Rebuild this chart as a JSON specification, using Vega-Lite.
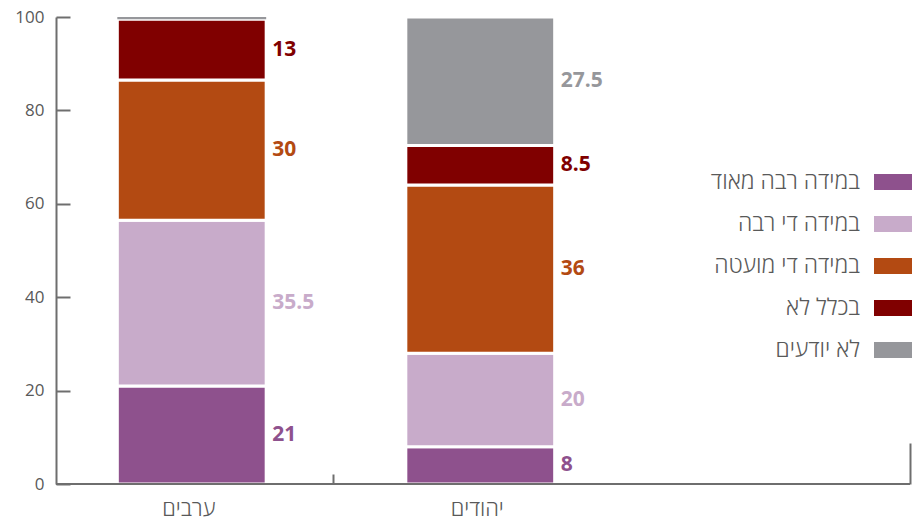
{
  "$schema": "https://vega.github.io/schema/vega-lite/v6.json",
  "width": 854,
  "height": 467,
  "autosize": {"type": "none"},
  "padding": {"left": 56, "top": 17, "right": 3, "bottom": 37},
  "config": {
    "view": {"stroke": null},
    "font": "Open Sans",
    "axis": {"grid": false, "domainColor": "#6e6e6e", "domainWidth": 2, "tickColor": "#6e6e6e", "tickWidth": 2, "labelColor": "#595959", "labelFont": "Open Sans", "title": null}
  },
  "data": {
    "values": [
      {"group": "ערבים", "answer": "במידה רבה מאוד", "value": 21, "order": 1},
      {"group": "ערבים", "answer": "במידה די רבה", "value": 35.5, "order": 2},
      {"group": "ערבים", "answer": "במידה די מועטה", "value": 30, "order": 3},
      {"group": "ערבים", "answer": "בכלל לא", "value": 13, "order": 4},
      {"group": "ערבים", "answer": "לא יודעים", "value": 0.5, "order": 5},
      {"group": "יהודים", "answer": "במידה רבה מאוד", "value": 8, "order": 1},
      {"group": "יהודים", "answer": "במידה די רבה", "value": 20, "order": 2},
      {"group": "יהודים", "answer": "במידה די מועטה", "value": 36, "order": 3},
      {"group": "יהודים", "answer": "בכלל לא", "value": 8.5, "order": 4},
      {"group": "יהודים", "answer": "לא יודעים", "value": 27.5, "order": 5}
    ]
  },
  "resolve": {"axis": {"x": "independent", "y": "independent"}},
  "layer": [
    {
      "mark": {"type": "bar", "stroke": "white", "width": {"band": 0.516}, "xOffset": 3},
      "encoding": {
        "x": {
          "field": "group",
          "type": "nominal",
          "sort": null,
          "scale": {"domain": ["ערבים", "יהודים", "_"], "range": [-11.5, 854], "paddingInner": 0, "paddingOuter": 0},
          "axis": {
            "orient": "bottom",
            "labelAngle": 0,
            "labelFontSize": 22,
            "labelFontWeight": 300,
            "labelPadding": 14,
            "ticks": false,
            "domain": false,
            "labelExpr": "datum.value === '_' ? '' : datum.value"
          }
        },
        "y": {
          "field": "value",
          "type": "quantitative",
          "stack": "zero",
          "scale": {"domain": [0, 100], "nice": false},
          "axis": {"orient": "left", "values": [0, 20, 40, 60, 80, 100], "labelFontSize": 17, "ticks": true, "tickSize": 0, "tickWidth": 0, "labelPadding": 12}
        },
        "order": {"field": "order", "type": "quantitative", "sort": "ascending"},
        "strokeWidth": {"condition": {"test": "datum.value < 1", "value": 0}, "value": 3},
        "color": {
          "field": "answer",
          "type": "nominal",
          "scale": {
            "domain": ["במידה רבה מאוד", "במידה די רבה", "במידה די מועטה", "בכלל לא", "לא יודעים"],
            "range": ["#8e518d", "#c8abca", "#b34a12", "#800000", "#96979b"]
          },
          "legend": {
            "orient": "none",
            "legendX": 818,
            "legendY": 146,
            "title": null,
            "padding": 0,
            "symbolType": "M-1,-0.421H1V0.421H-1Z",
            "symbolSize": 1444,
            "symbolStrokeWidth": 0,
            "symbolOpacity": 1,
            "labelAlign": "right",
            "labelOffset": -52,
            "labelFontSize": 23,
            "labelFontWeight": 300,
            "labelColor": "#595959",
            "labelFont": "Open Sans",
            "labelLimit": 300,
            "rowPadding": 11
          }
        }
      }
    },
    {
      "transform": [
        {"stack": "value", "groupby": ["group"], "sort": [{"field": "order", "order": "ascending"}], "as": ["v0", "v1"]},
        {"filter": "datum.value >= 1"},
        {"calculate": "(datum.v0 + datum.v1) / 2", "as": "vmid"}
      ],
      "mark": {"type": "text", "align": "left", "baseline": "middle", "dx": 83.5, "fontSize": 21, "fontWeight": "bold", "font": "Open Sans"},
      "encoding": {
        "x": {
          "field": "group",
          "type": "nominal",
          "sort": null,
          "axis": {
            "orient": "top",
            "offset": -467,
            "labels": false,
            "domain": false,
            "ticks": true,
            "tickColor": "#6e6e6e",
            "tickWidth": 2,
            "tickBand": "extent",
            "tickSize": {"condition": {"test": "datum.value === '_'", "value": 41}, "value": 10},
            "tickOpacity": {"condition": {"test": "datum.value === 'יהודים' || datum.index < 0", "value": 0}, "value": 1}
          }
        },
        "y": {
          "field": "vmid",
          "type": "quantitative",
          "axis": {"orient": "right", "offset": -854, "labels": false, "domain": false, "ticks": true, "tickColor": "#6e6e6e", "tickWidth": 2, "values": [0, 20, 40, 60, 80, 100], "tickSize": 14}
        },
        "text": {"field": "value", "type": "quantitative"},
        "color": {"field": "answer", "type": "nominal", "legend": null}
      }
    },
    {
      "mark": {"type": "rule", "color": "#6e6e6e", "strokeWidth": 2},
      "encoding": {"y": {"datum": 0, "type": "quantitative", "axis": null}}
    }
  ]
}
